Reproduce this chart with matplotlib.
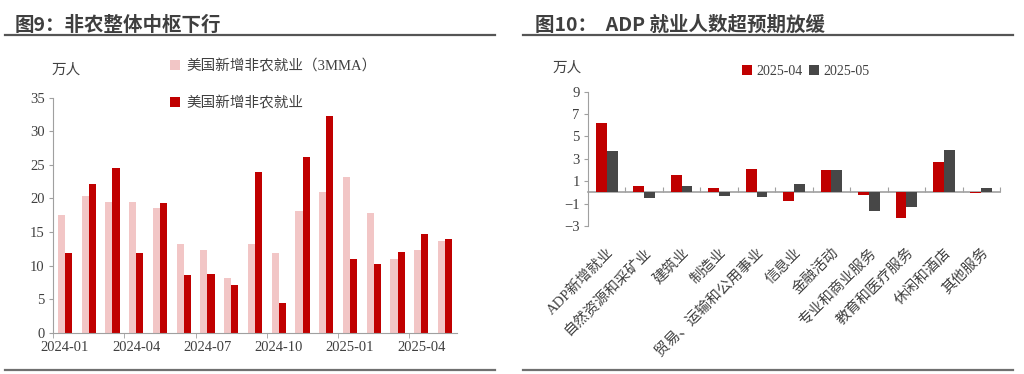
import matplotlib
matplotlib.use("Agg")
import matplotlib.pyplot as plt
import numpy as np

plt.rcParams["font.family"] = ["Liberation Serif", "Noto Sans CJK SC"]
plt.rcParams["font.size"] = 10.5
plt.rcParams["text.color"] = "#404040"
plt.rcParams["xtick.color"] = "#404040"
plt.rcParams["ytick.color"] = "#404040"

# left chart: monthly nonfarm payrolls (10k persons)
months = ["2024-01", "2024-02", "2024-03", "2024-04", "2024-05", "2024-06",
          "2024-07", "2024-08", "2024-09", "2024-10", "2024-11", "2024-12",
          "2025-01", "2025-02", "2025-03", "2025-04", "2025-05"]
nfp_3mma = [17.6, 20.3, 19.5, 19.5, 18.5, 13.2, 12.3, 8.1, 13.2, 11.8, 18.1,
            20.9, 23.2, 17.8, 11.0, 12.3, 13.6]
nfp = [11.9, 22.2, 24.6, 11.8, 19.3, 8.6, 8.8, 7.1, 23.9, 4.4, 26.1, 32.3,
       11.0, 10.2, 12.0, 14.7, 13.9]

# right chart: ADP by sector (10k persons)
sectors = ["ADP新增就业", "自然资源和采矿业", "建筑业", "制造业",
           "贸易、运输和公用事业", "信息业", "金融活动", "专业和商业服务",
           "教育和医疗服务", "休闲和酒店", "其他服务"]
adp_apr = [6.2, 0.6, 1.6, 0.4, 2.1, -0.8, 2.0, -0.2, -2.3, 2.7, -0.05]
adp_may = [3.7, -0.5, 0.6, -0.3, -0.4, 0.75, 2.0, -1.7, -1.3, 3.8, 0.4]

pink = "#F2C6C6"
red = "#C00000"
dark = "#474747"
axis_gray = "#A0A0A0"

fig = plt.figure(figsize=(10.24, 3.74), dpi=100)
W, H = 1024, 374


def px(x0, y0, x1, y1):
    return [x0 / W, 1 - y1 / H, (x1 - x0) / W, (y1 - y0) / H]


# ---- left panel
ax1 = fig.add_axes(px(53, 97.7, 457, 332.7))
x = np.arange(len(months))
ax1.bar(x - 0.15, nfp_3mma, width=0.3, color=pink, label="美国新增非农就业（3MMA）")
ax1.bar(x + 0.15, nfp, width=0.3, color=red, label="美国新增非农就业")
ax1.set_xlim(-0.5, len(months) - 0.5)
ax1.set_ylim(0, 35)
ax1.set_yticks(np.arange(0, 36, 5))
ax1.set_xticks(x[::3])
ax1.set_xticklabels(months[::3])
ax1.tick_params(axis="x", length=0, pad=6, labelsize=10.5)
ax1.set_xticks(np.arange(-0.5, len(months) - 1, 3), minor=True)
ax1.tick_params(axis="x", which="minor", length=3.5, color=axis_gray)
ax1.tick_params(axis="y", length=3, color=axis_gray, pad=3, labelsize=10.5)
for s in ["top", "right"]:
    ax1.spines[s].set_visible(False)
for s in ["left", "bottom"]:
    ax1.spines[s].set_color(axis_gray)
ax1.legend(loc="upper left", bbox_to_anchor=(170 / W, 1 - 59 / H),
           bbox_transform=fig.transFigure, frameon=False, fontsize=10.5,
           handlelength=0.7, handleheight=0.7, handletextpad=0.4,
           labelspacing=1.6, borderaxespad=0, borderpad=0)
fig.text(66 / W, 1 - 70 / H, "万人", ha="center", va="center", fontsize=10.5)

# ---- right panel
ax2 = fig.add_axes(px(588, 91.7, 1000, 226))
x2 = np.arange(len(sectors))
ax2.bar(x2 - 0.145, adp_apr, width=0.29, color=red, label="2025-04")
ax2.bar(x2 + 0.145, adp_may, width=0.29, color=dark, label="2025-05")
ax2.set_xlim(-0.5, len(sectors) - 0.5)
ax2.set_ylim(-3, 9)
ax2.set_yticks([-3, -1, 1, 3, 5, 7, 9])
ax2.set_xticks(x2)
ax2.set_xticklabels(sectors, rotation=45, ha="right", va="top",
                    rotation_mode="anchor", fontsize=10.5)
ax2.tick_params(axis="x", length=0, pad=14)
ax2.tick_params(axis="y", length=3, color=axis_gray, pad=3, labelsize=10.5)
for s in ["top", "right", "bottom"]:
    ax2.spines[s].set_visible(False)
ax2.spines["left"].set_color(axis_gray)
zero_ax = ax2.secondary_xaxis(0.25)
zero_ax.spines["bottom"].set_color(axis_gray)
zero_ax.spines["bottom"].set_linewidth(1.2)
zero_ax.set_xticks(np.arange(0.5, len(sectors), 1))
zero_ax.tick_params(axis="x", direction="in", length=3.5, color=axis_gray,
                    labelbottom=False)
ax2.legend(loc="upper left", bbox_to_anchor=(742 / W, 1 - 65 / H),
           bbox_transform=fig.transFigure, frameon=False, fontsize=10,
           ncol=2, handlelength=0.7, handleheight=0.7, handletextpad=0.3,
           columnspacing=0.5, borderaxespad=0, borderpad=0)
fig.text(567 / W, 1 - 68 / H, "万人", ha="center", va="center", fontsize=10.5)

# ---- titles and rules
title_kw = dict(fontsize=14, fontweight="bold", color="#3F3F3F",
                family=["Noto Sans CJK SC"], va="center", ha="left")
fig.text(15 / W, 1 - 25 / H, "图9：非农整体中枢下行", **title_kw)
fig.text(535 / W, 1 - 25 / H, "图10：  ADP 就业人数超预期放缓", **title_kw)
for x0, x1 in [(5, 495), (523, 1013)]:
    fig.add_artist(plt.Line2D([x0 / W, x1 / W], [1 - 35 / H] * 2,
                              color="#555555", lw=1.6))
    fig.add_artist(plt.Line2D([x0 / W, x1 / W], [1 - 370 / H] * 2,
                              color="#707070", lw=1.6))

fig.savefig("out.png", dpi=100)
